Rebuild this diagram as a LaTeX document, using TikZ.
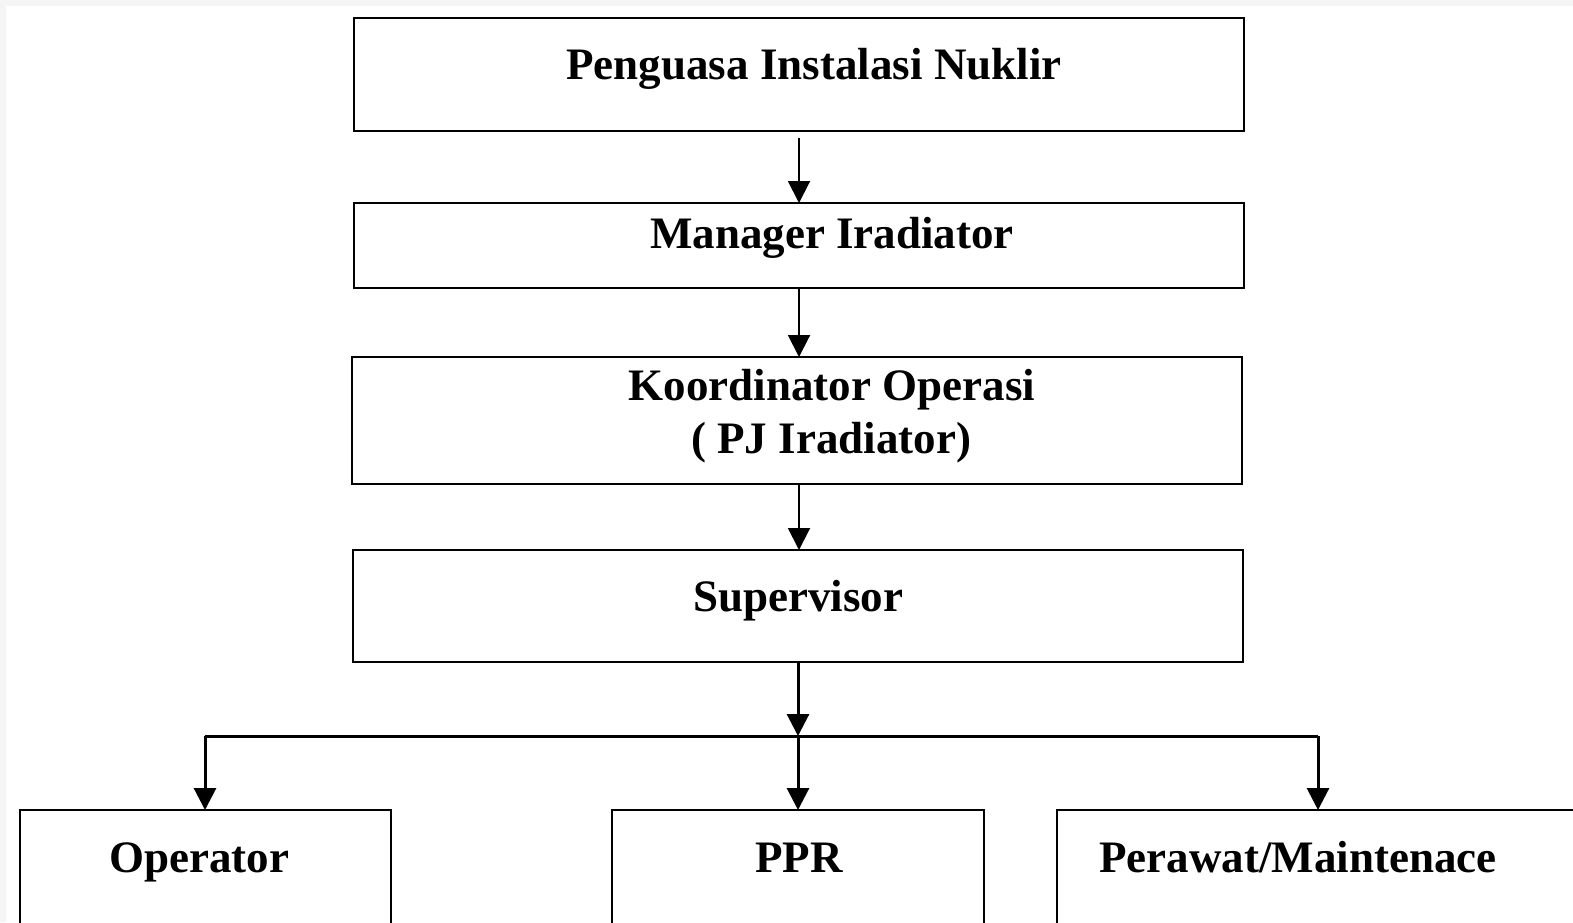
\documentclass[tikz,border=0pt]{standalone}
\usepackage{fontspec}
\setmainfont{Liberation Serif}
\usetikzlibrary{arrows.meta}
\begin{document}
\begin{tikzpicture}[x=1pt,y=-1pt,
  box/.style={draw=black,line width=2.5pt},
  lbl/.style={font=\fontsize{45}{50}\selectfont\bfseries,anchor=base,inner sep=0pt},
  arr/.style={line width=2pt,-{Triangle[width=22pt,length=22pt]}},
  arrb/.style={line width=3pt,-{Triangle[width=22pt,length=22pt]}},
  ]
\useasboundingbox (0,0) rectangle (1573,922);
\fill[black!4] (0,0) rectangle (1573,922);
\fill[white] (6,6) rectangle (1573,922);
\clip (0,0) rectangle (1573,922);
% boxes
\draw[box] (354,18) rectangle (1244,131);
\draw[box] (354,203) rectangle (1244,288);
\draw[box] (352,357) rectangle (1242,484);
\draw[box] (353,550) rectangle (1243,662);
\draw[box] (20,930) -- (20,810) -- (391,810) -- (391,930);
\draw[box] (612,930) -- (612,810) -- (984,810) -- (984,930);
\draw[box] (1057,930) -- (1057,810) -- (1590,810);
% labels
\node[lbl] (t1) at (814,79) {Penguasa Instalasi Nuklir};
\node[lbl] (t2) at (832,248) {Manager Iradiator};
\node[lbl] (t3a) at (832,400) {Koordinator Operasi};
\node[lbl] (t3b) at (831,453) {( PJ Iradiator)};
\node[lbl] (t4) at (798,611) {Supervisor};
\node[lbl] (t5) at (199,872) {Operator};
\node[lbl] (t6) at (799,872) {PPR};
\node[lbl] (t7) at (1298,872) {Perawat/Maintenace};
% coordinates
\coordinate (a1) at (799,138);
\coordinate (b1) at (799,203);
\coordinate (a2) at (799,288);
\coordinate (b2) at (799,357);
\coordinate (a3) at (799,484);
\coordinate (b3) at (799,550);
\coordinate (a4) at (798,662);
\coordinate (j) at (798,736);
\coordinate (jl) at (205,736);
\coordinate (jr) at (1318,736);
\coordinate (o) at (205,810);
\coordinate (p) at (798,810);
\coordinate (m) at (1318,810);
\draw[arr] (a1) -- (b1);
\draw[arr] (a2) -- (b2);
\draw[arr] (a3) -- (b3);
\draw[arrb] (a4) -- (j);
\draw[line width=3pt,-{Triangle[width=22pt,length=22pt]}] (jl) -- (o);
\draw[line width=3pt] (jl) -- (jr);
\draw[arrb] (j) -- (p);
\draw[line width=3pt,-{Triangle[width=22pt,length=22pt]}] (jr) -- (m);
\end{tikzpicture}
\end{document}
